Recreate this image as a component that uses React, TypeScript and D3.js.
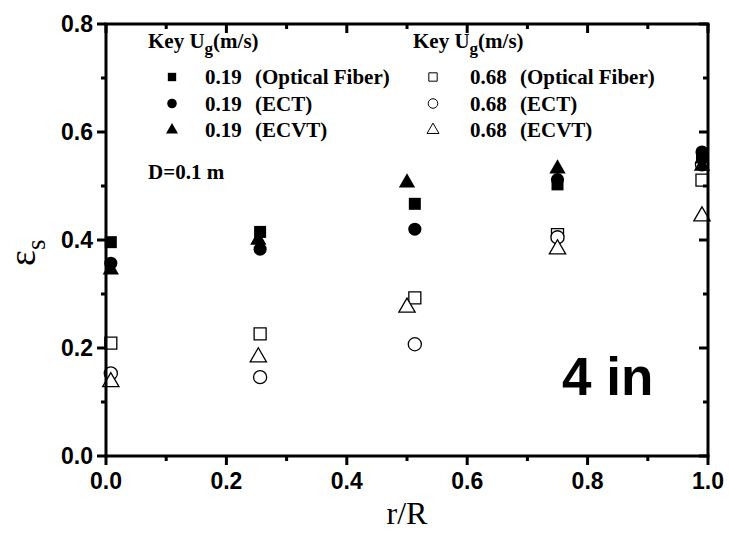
import React from 'react'
import * as d3 from 'd3'

// radial positions (r/R) of each measurement set
const R_OF = [0.008, 0.256, 0.513, 0.75, 0.99]
const R_ECT = [0.008, 0.256, 0.513, 0.75, 0.99]
const R_ECVT = [0.008, 0.253, 0.5, 0.75, 0.99]

// solids holdup, Ug = 0.19 m/s
const OF_019 = [0.396, 0.415, 0.467, 0.503, 0.553]
const ECT_019 = [0.357, 0.383, 0.42, 0.512, 0.563]
const ECVT_019 = [0.345, 0.4, 0.506, 0.532, 0.537]

// solids holdup, Ug = 0.68 m/s
const OF_068 = [0.209, 0.226, 0.293, 0.41, 0.511]
const ECT_068 = [0.153, 0.146, 0.207, 0.405, 0.54]
const ECVT_068 = [0.137, 0.183, 0.275, 0.383, 0.444]

const X_TICKS = [0, 0.2, 0.4, 0.6, 0.8, 1.0]
const Y_TICKS = [0, 0.2, 0.4, 0.6, 0.8]

const LEGEND_LEFT = ['0.19', '0.19', '0.19']
const LEGEND_RIGHT = ['0.68', '0.68', '0.68']
const LEGEND_NAMES = ['(Optical Fiber)', '(ECT)', '(ECVT)']

const SANS = '"Liberation Sans", Arial, sans-serif'
const SERIF = '"Liberation Serif", "Times New Roman", serif'

const W = 729
const H = 533
const margin = { left: 106, right: 21, top: 24, bottom: 77 }

const App = () => {
  const x = d3.scaleLinear().domain([0, 1]).range([margin.left, W - margin.right])
  const y = d3.scaleLinear().domain([0, 0.8]).range([H - margin.bottom, margin.top])

  const shapes = [d3.symbolSquare, d3.symbolCircle, d3.symbolTriangle]
  const sizes = [144, 135, 115]
  const legendSizes = [70, 72, 62]
  const sym = (i: number, s: number) => d3.symbol().type(shapes[i]).size(s)()

  const series = [
    { r: R_OF, v: OF_068, shape: 0, filled: false },
    { r: R_ECT, v: ECT_068, shape: 1, filled: false },
    { r: R_ECVT, v: ECVT_068, shape: 2, filled: false },
    { r: R_OF, v: OF_019, shape: 0, filled: true },
    { r: R_ECT, v: ECT_019, shape: 1, filled: true },
    { r: R_ECVT, v: ECVT_019, shape: 2, filled: true }
  ]

  const xMinor = d3.range(0, 1.0001, 0.1)
  const yMinor = d3.range(0, 0.8001, 0.1)
  const [x0, x1] = x.range()
  const [y0, y1] = y.range()

  return (
    <svg width={W} height={H} style={{ display: 'block', position: 'absolute', left: 0, top: 0 }}>
      <rect width={W} height={H} fill="#fff" />

      {/* points */}
      {series.map((s, si) => (
        <g key={si}>
          {s.v.map((v, i) => (
            <path
              key={i}
              d={sym(s.shape, sizes[s.shape])}
              transform={`translate(${x(s.r[i])},${y(v)})`}
              fill={s.filled ? '#000' : '#fff'}
              stroke="#000"
              strokeWidth={s.filled ? 0 : 1.3}
            />
          ))}
        </g>
      ))}

      {/* frame */}
      <g stroke="#000" strokeWidth={3} fill="none">
        <line x1={x0 - 1.5} x2={x1 + 1.5} y1={y0} y2={y0} />
        <line x1={x0 - 1.5} x2={x1 + 1.5} y1={y1} y2={y1} />
        <line x1={x0} x2={x0} y1={y0} y2={y1} />
        <line x1={x1} x2={x1} y1={y0} y2={y1} />
      </g>

      {/* ticks */}
      <g stroke="#000" strokeWidth={3}>
        {xMinor.map((t, i) => {
          const len = i % 2 === 0 ? 9 : 5
          return (
            <g key={i}>
              <line x1={x(t)} x2={x(t)} y1={y0} y2={y0 + len} />
              <line x1={x(t)} x2={x(t)} y1={y1} y2={y1 + len} />
            </g>
          )
        })}
        {yMinor.map((t, i) => {
          const len = i % 2 === 0 ? 9 : 5
          return (
            <g key={i}>
              <line x1={x0} x2={x0 - len} y1={y(t)} y2={y(t)} />
              <line x1={x1} x2={x1 - len} y1={y(t)} y2={y(t)} />
            </g>
          )
        })}
      </g>

      {/* tick labels */}
      <g fontFamily={SANS} fontWeight="bold" fontSize={23} fill="#000">
        {X_TICKS.map(t => (
          <text key={t} x={x(t)} y={y0 + 33} textAnchor="middle">{t.toFixed(1)}</text>
        ))}
        {Y_TICKS.map(t => (
          <text key={t} x={x0 - 13} y={y(t) + 8} textAnchor="end">{t.toFixed(1)}</text>
        ))}
      </g>

      {/* axis titles */}
      <text x={(x0 + x1) / 2} y={524} textAnchor="middle" fontFamily={SERIF} fontSize={32}>r/R</text>
      <text transform="translate(35,266) rotate(-90)" fontFamily={SERIF} fontSize={38}>
        ε<tspan fontSize={27} dy={10}>s</tspan>
      </text>

      {/* legends */}
      <g fontFamily={SERIF} fontWeight="bold" fontSize={21} fill="#000">
        {[
          { kx: 148, mx: 172, vx: 205, nx: 255, vals: LEGEND_LEFT, filled: true },
          { kx: 413, mx: 433, vx: 470, nx: 520, vals: LEGEND_RIGHT, filled: false }
        ].map((col, ci) => (
          <g key={ci}>
            <text x={col.kx} y={48}>
              Key U<tspan fontSize={17} dy={6}>g</tspan><tspan dy={-6}>(m/s)</tspan>
            </text>
            {col.vals.map((v, i) => {
              const yy = 77 + i * 26.5
              return (
                <g key={i}>
                  <path
                    d={sym(i, legendSizes[i])}
                    transform={`translate(${col.mx},${yy})`}
                    fill={col.filled ? '#000' : '#fff'}
                    stroke="#000"
                    strokeWidth={col.filled ? 0 : 1}
                  />
                  <text x={col.vx} y={yy + 7}>{v}</text>
                  <text x={col.nx} y={yy + 7}>{LEGEND_NAMES[i]}</text>
                </g>
              )
            })}
          </g>
        ))}
        <text x={148} y={179}>D=0.1 m</text>
      </g>

      <text x={562} y={395} fontFamily={SANS} fontWeight="bold" fontSize={53}>4 in</text>
    </svg>
  )
}

export default App
